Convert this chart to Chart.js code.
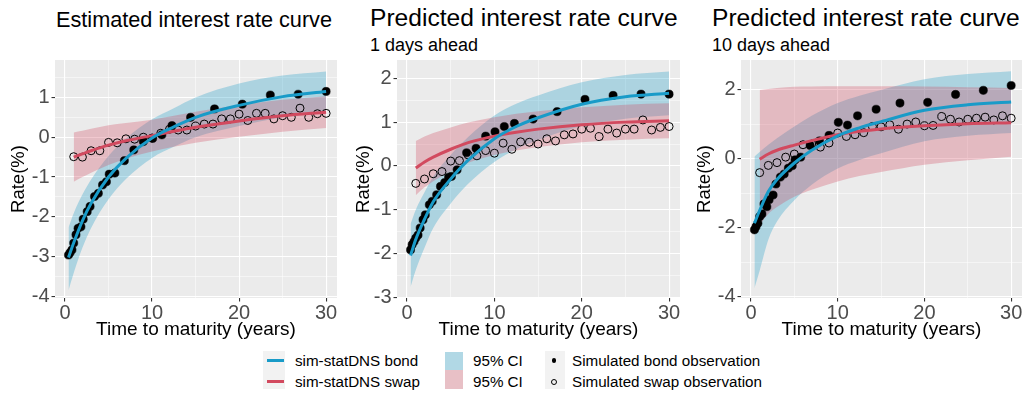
<!DOCTYPE html>
<html>
<head>
<meta charset="utf-8">
<script src="https://cdn.jsdelivr.net/npm/chart.js@4.4.1/dist/chart.umd.min.js"></script>
<style>
  body { margin: 0; width: 1027px; height: 394px; position: relative; overflow: hidden; background: #fff;
         font-family: "Liberation Sans", Arial, sans-serif; }
  canvas { position: absolute; top: 0; }
  .title { position: absolute; font-size: 21.7px; line-height: 1; color: #000; white-space: nowrap; }
  .title.big { font-size: 24.6px; }
  .sub { position: absolute; font-size: 18px; line-height: 1; color: #000; white-space: nowrap; }
  .lg { position: absolute; font-size: 15.2px; line-height: 1; color: #000; white-space: nowrap; }
  .box { position: absolute; }
</style>
</head>
<body>

<div class="title" style="left:56px;top:8.6px">Estimated interest rate curve</div>
<div class="title big" style="left:370px;top:6.2px">Predicted interest rate curve</div>
<div class="sub" style="left:370px;top:35.8px">1 days ahead</div>
<div class="title big" style="left:712px;top:6.2px">Predicted interest rate curve</div>
<div class="sub" style="left:712px;top:35.8px">10 days ahead</div>

<canvas id="est" width="342" height="345" style="left:0px"></canvas>
<canvas id="pred1" width="340" height="345" style="left:345px"></canvas>
<canvas id="pred10" width="341" height="345" style="left:686px"></canvas>

<!-- legend -->
<div class="box" style="left:263px;top:351px;width:22px;height:38px;background:#f2f2f2"></div>
<div class="box" style="left:267px;top:359.2px;width:17px;height:3px;background:rgb(25,155,200)"></div>
<div class="box" style="left:267px;top:380.2px;width:17px;height:3px;background:rgb(210,74,95)"></div>
<div class="lg" style="left:295px;top:353.3px">sim-statDNS bond</div>
<div class="lg" style="left:295px;top:374.3px">sim-statDNS swap</div>

<div class="box" style="left:445px;top:351.5px;width:18px;height:18.5px;background:rgb(177,216,229)"></div>
<div class="box" style="left:445px;top:370px;width:18px;height:18.5px;background:rgb(232,192,198)"></div>
<div class="lg" style="left:473px;top:353.3px">95% CI</div>
<div class="lg" style="left:473px;top:374.3px">95% CI</div>

<div class="box" style="left:545px;top:351px;width:20px;height:38px;background:#f2f2f2"></div>
<div class="box" style="left:551.7px;top:358.4px;width:4.6px;height:4.6px;border-radius:50%;background:#000"></div>
<div class="box" style="left:551px;top:378.7px;width:4px;height:4px;border-radius:50%;border:1px solid #000"></div>
<div class="lg" style="left:572px;top:353.3px">Simulated bond observation</div>
<div class="lg" style="left:572px;top:374.3px">Simulated swap observation</div>

<script>
// maturities in years
const bondMaturity = [0.4, 0.58, 0.8, 1.0, 1.26, 1.5, 1.83, 2.09, 2.55, 2.88, 3.39, 3.83, 4.31, 4.76,
  5.08, 5.73, 6.82, 7.9, 9.0, 10.07, 11.13, 12.29, 14.43, 17.18, 20.37, 23.59, 26.79, 30];
const swapMaturity = [1, 2, 3, 4, 5, 6, 7, 8, 9, 10, 11, 12, 13, 14, 15, 16, 17, 18, 19, 20,
  21, 22, 23, 24, 25, 26, 27, 28, 29, 30];
const bondCurveMaturity = [0.4, 1, 2, 3, 5, 7, 10, 12.5, 15, 20, 25, 30];
const swapCurveMaturity = [1, 2, 3, 5, 7, 10, 12.5, 15, 20, 25, 30];

// estimated curve
const estBondObs = [-2.96, -2.9, -2.83, -2.66, -2.45, -2.29, -2.25, -2.06, -1.87, -1.74, -1.49, -1.41, -1.2, -1.12,
  -0.93, -0.9, -0.59, -0.32, -0.11, -0.03, 0.06, 0.29, 0.5, 0.71, 0.83, 1.06, 1.08, 1.15];
const estSwapObs = [-0.49, -0.5, -0.34, -0.34, -0.13, -0.14, -0.04, -0.05, 0.0, -0.02, 0.1, 0.2, 0.18, 0.18, 0.28,
  0.33, 0.33, 0.46, 0.46, 0.58, 0.42, 0.6, 0.6, 0.46, 0.54, 0.5, 0.73, 0.5, 0.59, 0.6];
const estBondFit = [-3.02, -2.65, -2.1, -1.66, -1.0, -0.53, -0.02, 0.26, 0.5, 0.8, 1.02, 1.15];
const estBondHi = [-2.27, -1.91, -1.44, -1.06, -0.47, -0.03, 0.45, 0.73, 1.0, 1.35, 1.55, 1.65];
const estBondLo = [-3.85, -3.41, -2.78, -2.28, -1.56, -1.05, -0.52, -0.24, 0.0, 0.28, 0.5, 0.65];
const estSwapFit = [-0.5, -0.42, -0.34, -0.2, -0.09, 0.04, 0.15, 0.25, 0.41, 0.54, 0.63];
const estSwapHi = [0.12, 0.16, 0.21, 0.3, 0.36, 0.44, 0.54, 0.64, 0.81, 0.94, 1.03];
const estSwapLo = [-1.12, -1.0, -0.89, -0.7, -0.54, -0.36, -0.24, -0.14, 0.01, 0.14, 0.23];

// 1 day ahead
const pred1BondObs = [-1.92, -1.8, -1.73, -1.65, -1.58, -1.42, -1.23, -1.12, -0.89, -0.81, -0.66, -0.47, -0.38, -0.26,
  -0.24, -0.09, 0.3, 0.4, 0.68, 0.78, 0.9, 0.97, 1.07, 1.24, 1.52, 1.61, 1.64, 1.64];
const pred1SwapObs = [-0.4, -0.3, -0.18, -0.13, 0.11, 0.12, 0.25, 0.23, 0.35, 0.29, 0.52, 0.38, 0.55, 0.54, 0.5,
  0.62, 0.57, 0.71, 0.73, 0.84, 0.86, 0.67, 0.84, 0.75, 0.84, 0.84, 1.05, 0.82, 0.88, 0.9];
const pred1BondFit = [-2.05, -1.68, -1.22, -0.82, -0.3, 0.13, 0.62, 0.9, 1.1, 1.41, 1.58, 1.66];
const pred1BondHi = [-1.33, -1.0, -0.6, -0.24, 0.25, 0.66, 1.15, 1.42, 1.61, 1.91, 2.08, 2.16];
const pred1BondLo = [-2.77, -2.38, -1.87, -1.42, -0.86, -0.41, 0.09, 0.38, 0.59, 0.91, 1.08, 1.16];
const pred1SwapFit = [-0.05, 0.09, 0.2, 0.38, 0.53, 0.68, 0.77, 0.84, 0.94, 1.0, 1.03];
const pred1SwapHi = [0.57, 0.67, 0.75, 0.88, 0.99, 1.11, 1.19, 1.25, 1.34, 1.4, 1.43];
const pred1SwapLo = [-0.67, -0.49, -0.35, -0.12, 0.07, 0.25, 0.35, 0.43, 0.54, 0.6, 0.63];

// 10 days ahead
const pred10BondObs = [-2.06, -1.97, -1.87, -1.68, -1.6, -1.31, -1.39, -1.19, -1.05, -0.73, -0.53, -0.44, -0.27, -0.2,
  -0.03, 0.05, 0.39, 0.52, 0.68, 1.06, 0.98, 1.25, 1.44, 1.62, 1.64, 1.87, 1.99, 2.13];
const pred10SwapObs = [-0.4, -0.19, -0.11, 0.05, 0.14, 0.41, 0.43, 0.34, 0.46, 0.75, 0.65, 0.7, 0.76, 0.94, 0.93,
  0.99, 0.86, 1.01, 1.07, 0.96, 0.97, 1.23, 1.15, 1.07, 1.15, 1.18, 1.21, 1.13, 1.25, 1.18];
const pred10BondFit = [-1.87, -1.5, -0.95, -0.6, -0.12, 0.25, 0.67, 0.9, 1.08, 1.41, 1.57, 1.65];
const pred10BondHi = [0.07, 0.2, 0.41, 0.6, 0.94, 1.25, 1.62, 1.83, 2.0, 2.31, 2.46, 2.54];
const pred10BondLo = [-3.76, -3.25, -2.35, -1.82, -1.2, -0.75, -0.28, -0.03, 0.16, 0.51, 0.67, 0.75];
const pred10SwapFit = [-0.01, 0.14, 0.25, 0.4, 0.53, 0.7, 0.8, 0.87, 0.96, 1.02, 1.05];
const pred10SwapHi = [2.0, 2.03, 2.06, 2.09, 2.1, 2.11, 2.11, 2.11, 2.1, 2.08, 2.06];
const pred10SwapLo = [-1.92, -1.6, -1.4, -1.1, -0.9, -0.66, -0.5, -0.38, -0.17, -0.04, 0.06];

// grid / tick positions
const xTicks = [0, 5, 10, 15, 20, 25, 30];
const yTicksEst = [-4, -3.5, -3, -2.5, -2, -1.5, -1, -0.5, 0, 0.5, 1, 1.5];
const yTicksPred1 = [-3, -2.5, -2, -1.5, -1, -0.5, 0, 0.5, 1, 1.5, 2];
const yTicksPred10 = [-4, -3, -2, -1, 0, 1, 2];

const BLUE = 'rgb(25,155,200)';
const RED = 'rgb(210,74,95)';
const BLUE_BAND = 'rgba(25,155,200,0.3)';
const RED_BAND = 'rgba(210,74,95,0.3)';

Chart.defaults.font.family = '"Liberation Sans", Arial, sans-serif';

const pts = (xs, ys) => xs.map((x, i) => ({ x, y: ys[i] }));
const isMajor = (v, step) => Math.abs(v / step - Math.round(v / step)) < 1e-9;

// grey panel behind the grid
const panelBg = {
  id: 'panelBg',
  beforeDraw(chart) {
    const { ctx, chartArea: a } = chart;
    ctx.save();
    ctx.fillStyle = '#ebebeb';
    ctx.fillRect(a.left, a.top, a.right - a.left, a.bottom - a.top);
    ctx.restore();
  }
};

function curve(data, color) {
  return { data, borderColor: color, borderWidth: 3, pointRadius: 0, fill: false,
           cubicInterpolationMode: 'monotone' };
}
function band(data, color, fill) {
  return { data, borderWidth: 0, borderColor: 'transparent', pointRadius: 0, fill,
           backgroundColor: color, cubicInterpolationMode: 'monotone' };
}

function drawPanel(id, p) {
  new Chart(document.getElementById(id), {
    type: 'line',
    data: {
      datasets: [
        curve(pts(bondCurveMaturity, p.bondFit), BLUE),
        curve(pts(swapCurveMaturity, p.swapFit), RED),
        { data: pts(bondMaturity, p.bondObs), showLine: false, pointRadius: 4.1,
          pointBackgroundColor: '#000', pointBorderColor: '#000', pointBorderWidth: 0.5 },
        { data: pts(swapMaturity, p.swapObs), showLine: false, pointRadius: 4,
          pointBackgroundColor: 'transparent', pointBorderColor: '#000', pointBorderWidth: 1 },
        band(pts(swapCurveMaturity, p.swapLo), RED_BAND, '+1'),
        band(pts(swapCurveMaturity, p.swapHi), RED_BAND, false),
        band(pts(bondCurveMaturity, p.bondLo), BLUE_BAND, '+1'),
        band(pts(bondCurveMaturity, p.bondHi), BLUE_BAND, false)
      ]
    },
    options: {
      responsive: false,
      animation: false,
      events: [],
      layout: { padding: { top: 60, right: 2, left: 0, bottom: 0 } },
      plugins: { legend: { display: false }, tooltip: { enabled: false } },
      scales: {
        x: {
          type: 'linear', min: -1.15, max: 31.25,
          afterFit: (s) => { s.height = 47; },
          afterBuildTicks: (s) => { s.ticks = xTicks.map((v) => ({ value: v })); },
          ticks: { autoSkip: false, maxRotation: 0, color: '#4d4d4d', font: { size: 20 }, padding: 0,
                   callback: (v) => (isMajor(v, 10) ? String(v) : '') },
          grid: { color: '#fff', lineWidth: (c) => (isMajor(c.tick.value, 10) ? 1.1 : 0.5),
                  tickLength: 3.5, tickColor: (c) => (isMajor(c.tick.value, 10) ? '#333' : 'rgba(0,0,0,0)') },
          border: { display: false },
          title: { display: true, text: 'Time to maturity (years)', color: '#000', font: { size: 19 },
                   padding: { top: 0, bottom: 4 } }
        },
        y: {
          type: 'linear', min: p.yMin, max: p.yMax,
          afterFit: (s) => { s.width = p.axisW; },
          afterBuildTicks: (s) => { s.ticks = p.yTicks.map((v) => ({ value: v })); },
          ticks: { autoSkip: false, color: '#4d4d4d', font: { size: 20 }, padding: 2,
                   callback: (v) => (isMajor(v, p.yMajor) ? String(v) : '') },
          grid: { color: '#fff', lineWidth: (c) => (isMajor(c.tick.value, p.yMajor) ? 1.1 : 0.5),
                  tickLength: 3.5, tickColor: (c) => (isMajor(c.tick.value, p.yMajor) ? '#333' : 'rgba(0,0,0,0)') },
          border: { display: false },
          title: { display: true, text: 'Rate(%)', color: '#000', font: { size: 18.5 }, padding: { top: 8 } }
        }
      }
    },
    plugins: [panelBg]
  });
}

drawPanel('est', {
  bondObs: estBondObs, swapObs: estSwapObs,
  bondFit: estBondFit, bondHi: estBondHi, bondLo: estBondLo,
  swapFit: estSwapFit, swapHi: estSwapHi, swapLo: estSwapLo,
  yMin: -4.04, yMax: 1.94, yTicks: yTicksEst, yMajor: 1, axisW: 55
});
drawPanel('pred1', {
  bondObs: pred1BondObs, swapObs: pred1SwapObs,
  bondFit: pred1BondFit, bondHi: pred1BondHi, bondLo: pred1BondLo,
  swapFit: pred1SwapFit, swapHi: pred1SwapHi, swapLo: pred1SwapLo,
  yMin: -3.02, yMax: 2.42, yTicks: yTicksPred1, yMajor: 1, axisW: 52
});
drawPanel('pred10', {
  bondObs: pred10BondObs, swapObs: pred10SwapObs,
  bondFit: pred10BondFit, bondHi: pred10BondHi, bondLo: pred10BondLo,
  swapFit: pred10SwapFit, swapHi: pred10SwapHi, swapLo: pred10SwapLo,
  yMin: -4.04, yMax: 2.87, yTicks: yTicksPred10, yMajor: 2, axisW: 55
});
</script>
</body>
</html>
